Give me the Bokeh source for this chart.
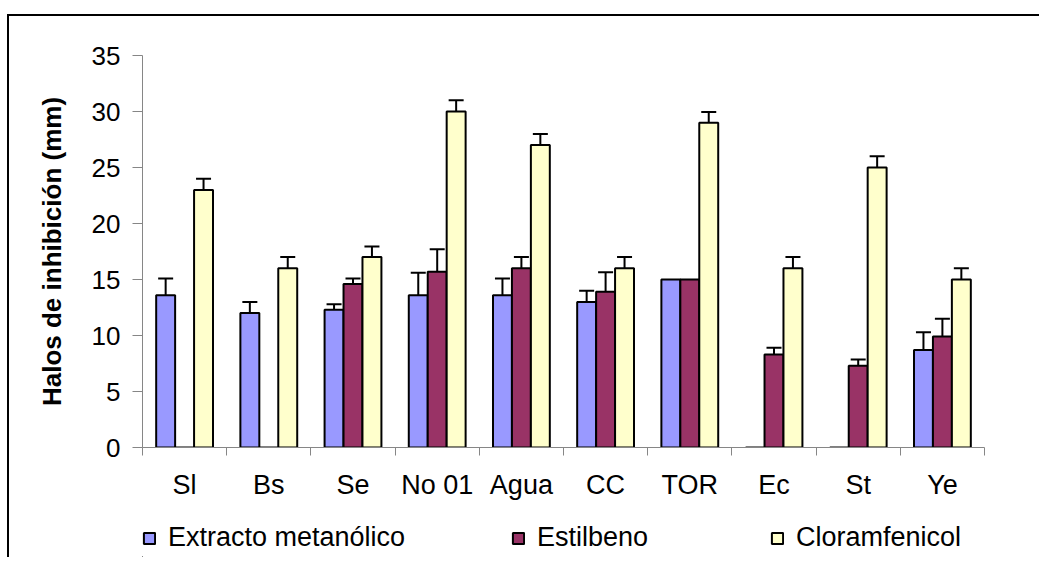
from bokeh.plotting import figure
from bokeh.layouts import column
from bokeh.models import (ColumnDataSource, Whisker, TeeHead, Range1d, LinearAxis,
                          FixedTicker, Legend, LegendItem)
from bokeh.embed import file_html
from bokeh.resources import INLINE

categories = ["Sl", "Bs", "Se", "No 01", "Agua", "CC", "TOR", "Ec", "St", "Ye"]
extracto = [13.6, 12.0, 12.3, 13.6, 13.6, 13.0, 15.0, 0.0, 0.0, 8.7]
extracto_err = [1.5, 1.0, 0.5, 2.0, 1.5, 1.0, 0.0, 0.0, 0.0, 1.6]
estilbeno = [0.0, 0.0, 14.6, 15.7, 16.0, 13.9, 15.0, 8.3, 7.3, 9.9]
estilbeno_err = [0.0, 0.0, 0.5, 2.0, 1.0, 1.75, 0.0, 0.6, 0.55, 1.6]
cloramfenicol = [23, 16, 17, 30, 27, 16, 29, 16, 25, 15]
cloramfenicol_err = [1.0, 1.0, 0.95, 1.0, 1.0, 1.0, 0.95, 1.0, 1.0, 1.0]
series_names = ["Extracto metanólico", "Estilbeno", "Cloramfenicol"]
y_ticks = [0, 5, 10, 15, 20, 25, 30, 35]

colors = ["#9999FF", "#993366", "#FFFFCC"]
FONT = "Liberation Sans"
GRAY = "#868686"

n = len(categories)
centers = [i + 0.5 for i in range(n)]
edges = list(range(n + 1))

p = figure(x_range=Range1d(0, n), y_range=Range1d(0, 35), width=1030, height=491,
           output_backend="svg", toolbar_location=None, x_axis_location=None,
           min_border_left=133, min_border_right=55, min_border_top=39, min_border_bottom=60)
p.xgrid.visible = False
p.ygrid.visible = False
p.outline_line_color = None
p.background_fill_color = "white"
p.border_fill_color = "white"

# y axis
ya = p.yaxis[0]
ya.ticker = FixedTicker(ticks=y_ticks)
ya.axis_line_color = GRAY
ya.major_tick_line_color = GRAY
ya.minor_tick_line_color = None
ya.major_tick_out = 10
ya.major_tick_in = 0
ya.major_label_standoff = 12
ya.major_label_text_font = FONT
ya.major_label_text_font_size = "26px"
ya.major_label_text_color = "black"
ya.axis_label = "Halos de inhibición (mm)"
ya.axis_label_text_font = FONT
ya.axis_label_text_font_style = "bold"
ya.axis_label_text_font_size = "26px"
ya.axis_label_text_color = "black"
ya.axis_label_standoff = 22

# x axis: category labels at centres, tick marks between categories
xa = LinearAxis(ticker=FixedTicker(ticks=centers, minor_ticks=edges),
                major_label_overrides={c: lab for c, lab in zip(centers, categories)},
                axis_line_color=GRAY, major_tick_line_color=None, major_tick_out=0, major_tick_in=0,
                minor_tick_line_color=GRAY, minor_tick_out=8, minor_tick_in=0,
                major_label_standoff=14, major_label_text_font=FONT,
                major_label_text_font_size="27px", major_label_text_color="black")
p.add_layout(xa, "below")

width = 0.225
offsets = [-width, 0.0, width]
values = [extracto, estilbeno, cloramfenicol]
errors = [extracto_err, estilbeno_err, cloramfenicol_err]
for vals, errs, off, col in zip(values, errors, offsets, colors):
    xs = [c + off for c in centers]
    src = ColumnDataSource(dict(x=xs, val=vals))
    p.vbar(x="x", top="val", bottom=0, width=width,
           source=src, fill_color=col, line_color="black", line_width=2)
    keep = [i for i, e in enumerate(errs) if e > 0]
    esrc = ColumnDataSource(dict(
        x=[xs[i] for i in keep],
        lower=[vals[i] - errs[i] for i in keep],
        upper=[vals[i] + errs[i] for i in keep]))
    w = Whisker(base="x", lower="lower", upper="upper", source=esrc,
                line_color="black", line_width=2,
                upper_head=TeeHead(size=15, line_width=2, line_color="black"),
                lower_head=TeeHead(size=15, line_width=2, line_color="black"))
    p.add_layout(w)

# legend strip below the chart (its frame is aligned with the chart's frame)
lp = figure(x_range=Range1d(0, 1), y_range=Range1d(0, 1), width=1030, height=50,
            output_backend="svg", toolbar_location=None, x_axis_location=None, y_axis_location=None,
            min_border=0)
lp.xgrid.visible = False
lp.ygrid.visible = False
lp.outline_line_color = None
leg_x = [0, 369, 628]
for name, col, lx in zip(series_names, colors, leg_x):
    # legend proxy kept far outside the visible range of the strip
    r = lp.vbar(x=[-20], top=[-20], bottom=[-21], width=0.01, fill_color=col,
                line_color="black", line_width=2)
    leg = Legend(items=[LegendItem(label=name, renderers=[r])], location=(lx, 4),
                 orientation="horizontal", glyph_width=14, glyph_height=14,
                 label_text_font=FONT, label_text_font_size="27px", label_text_color="black",
                 label_standoff=12, padding=0, margin=0, spacing=0,
                 border_line_color=None, background_fill_alpha=0)
    lp.add_layout(leg)

layout = column(p, lp, spacing=0)
layout.styles = {"margin-left": "7px", "margin-top": "14px",
                 "border-left": "2px solid black", "border-top": "2px solid black"}

open("out.html", "w").write(file_html(layout, INLINE))
